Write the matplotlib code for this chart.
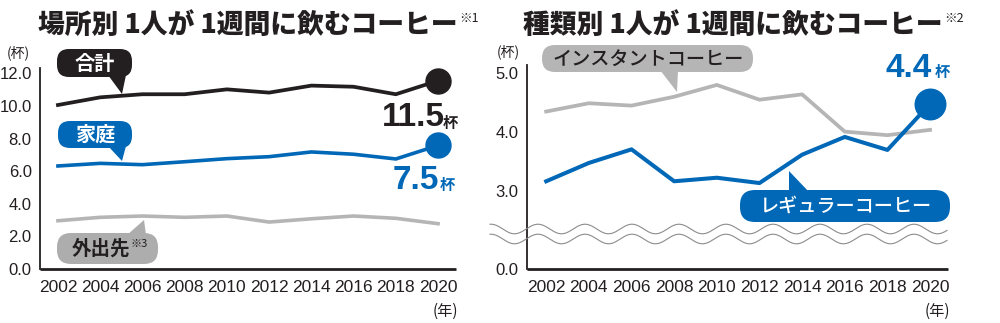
import matplotlib
matplotlib.use("Agg")
import matplotlib.pyplot as plt
from matplotlib.patches import FancyBboxPatch, Polygon
from matplotlib.lines import Line2D
from matplotlib.transforms import Affine2D
import numpy as np

# ---------------- data ----------------
years = [2002, 2004, 2006, 2008, 2010, 2012, 2014, 2016, 2018, 2020]
year_labels = [str(y) for y in years]

# 場所別 (cups / week)
total = [10.06, 10.53, 10.72, 10.72, 11.02, 10.82, 11.25, 11.18, 10.72, 11.55]
home = [6.32, 6.48, 6.40, 6.58, 6.77, 6.89, 7.18, 7.04, 6.75, 7.58]
outside = [2.96, 3.17, 3.25, 3.17, 3.25, 2.88, 3.08, 3.25, 3.11, 2.78]

# 種類別 (cups / week)
instant = [4.35, 4.49, 4.45, 4.60, 4.80, 4.55, 4.64, 4.01, 3.95, 4.04]
regular = [3.17, 3.48, 3.71, 3.17, 3.23, 3.14, 3.62, 3.92, 3.70, 4.48]

left_yticks = [0, 2, 4, 6, 8, 10, 12]
left_yticklabels = ["0.0", "2.0", "4.0", "6.0", "8.0", "10.0", "12.0"]
right_yticks_upper = [3, 4, 5]
right_yticklabels = ["0.0", "3.0", "4.0", "5.0"]

title_left = "場所別 1人が 1週間に飲むコーヒー"
title_right = "種類別 1人が 1週間に飲むコーヒー"
total_label, home_label, regular_label = "11.5", "7.5", "4.4"

# ---------------- style ----------------
BLACK = "#231f20"
BLUE = "#0068b7"
GRAY_LINE = "#b5b5b5"
GRAY_BUB_L = "#adadad"
GRAY_BUB_R = "#b5b5b5"
CJK = ["Noto Sans CJK JP", "DejaVu Sans"]
NUM = ["Liberation Sans", "DejaVu Sans"]

W, H = 1000, 323
fig = plt.figure(figsize=(W / 100, H / 100), dpi=100)
fig.patch.set_facecolor("white")
PX = Affine2D().scale(1 / W, -1 / H).translate(0, 1) + fig.transFigure


def rect(x0, y0, x1, y1):
    return [x0 / W, 1 - y1 / H, (x1 - x0) / W, (y1 - y0) / H]


axL = fig.add_axes(rect(40, 68, 456, 269))
axR = fig.add_axes(rect(527, 65, 948, 269))

for ax in (axL, axR):
    for s in ("top", "right"):
        ax.spines[s].set_visible(False)
    ax.spines["left"].set_linewidth(1.3)
    ax.spines["left"].set_color(BLACK)
    ax.spines["bottom"].set_linewidth(2.0)
    ax.spines["bottom"].set_color(BLACK)
    ax.spines["bottom"].set_capstyle("butt")
    ax.tick_params(length=0, labelsize=12, colors=BLACK)
    ax.set_xticks(years)
    ax.set_xticklabels(year_labels, fontfamily=NUM, fontsize=12.5)
    ax.tick_params(axis="x", pad=8)
    ax.tick_params(axis="y", pad=6)
    ax.patch.set_alpha(0)

# left axes
axL.set_xlim(2001.15, 2020.85)
axL.set_ylim(0, 12.33)
axL.set_yticks(left_yticks)
axL.set_yticklabels(left_yticklabels, fontfamily=NUM, fontsize=12)

axL.plot(years, outside, color=GRAY_LINE, lw=2.6, solid_joinstyle="round")
axL.plot(years, home, color=BLUE, lw=2.6, solid_joinstyle="round")
axL.plot(years, total, color=BLACK, lw=2.7, solid_joinstyle="round")
axL.plot(years[-1], total[-1], "o", ms=18, color=BLACK, clip_on=False)
axL.plot(years[-1], home[-1], "o", ms=18, color=BLUE, clip_on=False)

# right axes (broken axis)
break_bottom = 1.686
axR.set_xlim(2001.1, 2020.84)
axR.set_ylim(break_bottom, 5.137)
axR.set_yticks([break_bottom] + right_yticks_upper)
axR.set_yticklabels(right_yticklabels, fontfamily=NUM, fontsize=12)
axR.plot(years, instant, color=GRAY_LINE, lw=2.7, solid_joinstyle="round")
axR.plot(years, regular, color=BLUE, lw=2.9, solid_joinstyle="round")
axR.plot(years[-1], regular[-1], "o", ms=22, color=BLUE, clip_on=False)

# wavy break lines (figure pixel space)
xs = np.linspace(490, 947, 400)
for yc in (229, 239):
    ys = yc - 4.8 * np.cos(2 * np.pi * (xs - 538) / 47)
    fig.add_artist(Line2D(xs, ys, transform=PX, color="#8c8c8c", lw=0.8))

renderer = fig.canvas.get_renderer()


def txt(x, y, s, **kw):
    return fig.text(x, y, s, transform=PX, **kw)


def after(t, s, dx=1, dy=0, **kw):
    bb = t.get_window_extent(renderer)
    x = bb.x1 + dx
    yb = H - bb.y1  # top of text in px (y-down)
    return txt(x, yb + dy, s, va="top", ha="left", **kw)


# titles
tl = txt(38, 25, title_left, fontfamily=CJK, fontsize=19.3, fontweight="heavy",
         color=BLACK, va="center", ha="left")
after(tl, "※1", dx=2, dy=1, fontfamily=CJK, fontsize=9, color=BLACK)
tr = txt(523, 25, title_right, fontfamily=CJK, fontsize=19.3, fontweight="heavy",
         color=BLACK, va="center", ha="left")
after(tr, "※2", dx=2, dy=1, fontfamily=CJK, fontsize=9, color=BLACK)

# units
txt(18, 53, "(杯)", fontfamily=CJK, fontsize=10, color=BLACK, ha="center", va="center")
txt(508, 52, "(杯)", fontfamily=CJK, fontsize=10, color=BLACK, ha="center", va="center")
txt(445, 311, "(年)", fontfamily=CJK, fontsize=11, color=BLACK, ha="center", va="center")
txt(937, 311, "(年)", fontfamily=CJK, fontsize=11, color=BLACK, ha="center", va="center")


def bubble(x0, y0, x1, y1, tail, color, r=12):
    p = FancyBboxPatch((x0, y0), x1 - x0, y1 - y0,
                       boxstyle=f"round,pad=0,rounding_size={r}",
                       transform=PX, facecolor=color, edgecolor="none")
    fig.add_artist(p)
    fig.add_artist(Polygon(tail, closed=True, transform=PX, facecolor=color,
                           edgecolor="none"))


bubble(57, 49, 132, 77, [(108, 75), (126, 75), (122, 94)], BLACK)
txt(94.5, 63, "合計", fontfamily=CJK, fontsize=14.5, fontweight="bold", color="white",
    ha="center", va="center")

bubble(58, 121, 132, 148, [(108, 146), (126, 146), (122, 161)], BLUE)
txt(95, 134.5, "家庭", fontfamily=CJK, fontsize=14.5, fontweight="bold", color="white",
    ha="center", va="center")

bubble(57, 233, 158, 264, [(127, 235), (146, 235), (144, 220)], GRAY_BUB_L, r=14)
to = txt(72, 249, "外出先", fontfamily=CJK, fontsize=14, fontweight="bold", color=BLACK,
         ha="left", va="center")
after(to, "※3", dx=0, dy=0, fontfamily=CJK, fontsize=8, color=BLACK)

bubble(542, 45, 753, 72, [(660, 70), (678, 70), (677, 92)], GRAY_BUB_R, r=13)
txt(648, 59, "インスタントコーヒー", fontfamily=CJK, fontsize=13.8, fontweight="medium",
    color=BLACK, ha="center", va="center")

bubble(740, 190, 950, 222, [(789, 192), (809, 192), (789, 171)], BLUE, r=15)
txt(846, 206, "レギュラーコーヒー", fontfamily=CJK, fontsize=13.8, fontweight="medium",
    color="white", ha="center", va="center")

# value labels
def value_label(ax, x, y, s, color, off_num, off_unit):
    ax.annotate(s, (x, y), xytext=off_num, textcoords="offset pixels",
                ha="right", va="center", fontsize=24, fontweight="bold",
                fontfamily=NUM, color=color, annotation_clip=False)
    ax.annotate("杯", (x, y), xytext=off_unit, textcoords="offset pixels",
                ha="left", va="center", fontsize=11, fontweight="bold",
                fontfamily=CJK, color=color, annotation_clip=False)


value_label(axL, years[-1], total[-1], total_label, BLACK, (7, -37), (5, -42))
value_label(axL, years[-1], home[-1], home_label, BLUE, (1, -35), (2, -40))
value_label(axR, years[-1], regular[-1], regular_label, BLUE, (2, 35), (5, 32))

fig.savefig("out.png", dpi=100, facecolor="white")
